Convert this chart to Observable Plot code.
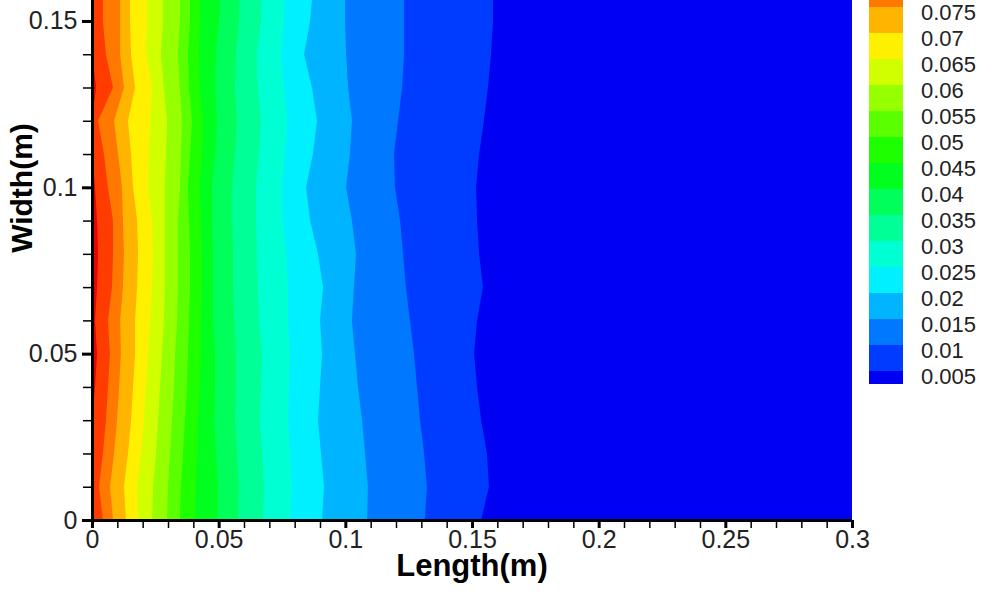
<!DOCTYPE html>
<html><head><meta charset="utf-8">
<script src="https://cdn.jsdelivr.net/npm/d3@7"></script>
<script src="https://cdn.jsdelivr.net/npm/@observablehq/plot@0.6"></script>
<style>body{margin:0;background:#fff}</style>
</head><body><div id="chart"></div>
<script>
// Rows across the width (m) at which contour positions were read
const widthY = [0, 0.01, 0.02, 0.03, 0.04, 0.05, 0.06, 0.07, 0.08, 0.09, 0.10, 0.11, 0.12, 0.13, 0.14, 0.15, 0.16];
// Contour levels
const levels = [0.005, 0.01, 0.015, 0.02, 0.025, 0.03, 0.035, 0.04, 0.045, 0.05, 0.055, 0.06, 0.065, 0.07, 0.075, 0.08, 0.085];
// Length (m) position of each contour line at each row of widthY
const x005 = [0.1536, 0.1567, 0.1559, 0.1536, 0.1520, 0.1508, 0.1520, 0.1543, 0.1528, 0.1520, 0.1516, 0.1528, 0.1547, 0.1563, 0.1575, 0.1583, 0.1583];
const x010 = [0.1314, 0.1322, 0.1311, 0.1295, 0.1283, 0.1271, 0.1255, 0.1239, 0.1228, 0.1216, 0.1196, 0.1192, 0.1208, 0.1224, 0.1232, 0.1232, 0.1232];
const x015 = [0.1086, 0.1089, 0.1078, 0.1066, 0.1050, 0.1038, 0.1026, 0.1034, 0.1042, 0.1026, 0.1003, 0.1018, 0.1026, 0.1011, 0.1003, 0.0999, 0.0999];
const x020 = [0.0908, 0.0916, 0.0904, 0.0892, 0.0900, 0.0908, 0.0900, 0.0912, 0.0892, 0.0861, 0.0845, 0.0872, 0.0888, 0.0868, 0.0837, 0.0861, 0.0872];
const x025 = [0.0782, 0.0789, 0.0782, 0.0774, 0.0778, 0.0782, 0.0774, 0.0774, 0.0766, 0.0754, 0.0750, 0.0762, 0.0770, 0.0758, 0.0746, 0.0758, 0.0762];
const x030 = [0.0675, 0.0679, 0.0671, 0.0663, 0.0667, 0.0671, 0.0659, 0.0655, 0.0651, 0.0647, 0.0647, 0.0659, 0.0667, 0.0655, 0.0651, 0.0667, 0.0671];
const x035 = [0.0576, 0.0580, 0.0572, 0.0564, 0.0568, 0.0568, 0.0561, 0.0557, 0.0557, 0.0553, 0.0553, 0.0564, 0.0572, 0.0564, 0.0568, 0.0580, 0.0584];
const x040 = [0.0497, 0.0497, 0.0489, 0.0482, 0.0486, 0.0486, 0.0478, 0.0478, 0.0478, 0.0474, 0.0474, 0.0486, 0.0493, 0.0486, 0.0489, 0.0501, 0.0505];
const x045 = [0.0407, 0.0411, 0.0414, 0.0418, 0.0426, 0.0430, 0.0430, 0.0434, 0.0434, 0.0430, 0.0426, 0.0434, 0.0438, 0.0426, 0.0422, 0.0426, 0.0426];
const x050 = [0.0347, 0.0351, 0.0359, 0.0367, 0.0375, 0.0379, 0.0383, 0.0387, 0.0387, 0.0383, 0.0379, 0.0387, 0.0395, 0.0383, 0.0379, 0.0387, 0.0387];
const x055 = [0.0296, 0.0300, 0.0308, 0.0316, 0.0324, 0.0328, 0.0336, 0.0339, 0.0339, 0.0339, 0.0347, 0.0351, 0.0355, 0.0347, 0.0339, 0.0347, 0.0347];
const x060 = [0.0237, 0.0241, 0.0253, 0.0261, 0.0268, 0.0276, 0.0284, 0.0288, 0.0288, 0.0288, 0.0288, 0.0292, 0.0296, 0.0284, 0.0272, 0.0280, 0.0280];
const x065 = [0.0182, 0.0178, 0.0193, 0.0205, 0.0213, 0.0221, 0.0229, 0.0237, 0.0241, 0.0237, 0.0221, 0.0225, 0.0229, 0.0237, 0.0213, 0.0217, 0.0217];
const x070 = [0.0134, 0.0126, 0.0142, 0.0154, 0.0162, 0.0170, 0.0170, 0.0178, 0.0182, 0.0178, 0.0162, 0.0154, 0.0142, 0.0170, 0.0154, 0.0150, 0.0150];
const x075 = [0.0083, 0.0071, 0.0087, 0.0099, 0.0107, 0.0114, 0.0111, 0.0122, 0.0126, 0.0122, 0.0118, 0.0103, 0.0087, 0.0126, 0.0111, 0.0111, 0.0111];
const x080 = [0.0043, 0.0028, 0.0043, 0.0055, 0.0063, 0.0071, 0.0063, 0.0079, 0.0083, 0.0083, 0.0063, 0.0047, 0.0024, 0.0083, 0.0055, 0.0043, 0.0043];
const x085 = [0, 0, 0, 0, 0.0012, 0.0020, 0.0012, 0.0020, 0.0024, 0.0020, 0.0012, 0, 0, 0.0016, 0, 0, 0];
const contourX = [x005, x010, x015, x020, x025, x030, x035, x040, x045, x050, x055, x060, x065, x070, x075, x080, x085];
// Axis ticks
const xMajor = [0, 0.05, 0.1, 0.15, 0.2, 0.25, 0.3];
const yMajor = [0, 0.05, 0.1, 0.15];

// Band colours (below lowest level ... above highest level)
const bandColors = [
  "rgb(0,0,242)", "rgb(0,60,255)", "rgb(0,120,255)", "rgb(0,180,255)", "rgb(0,240,255)",
  "rgb(0,255,210)", "rgb(0,255,150)", "rgb(0,255,90)", "rgb(0,255,30)", "rgb(30,255,0)",
  "rgb(90,255,0)", "rgb(150,255,0)", "rgb(210,255,0)", "rgb(255,240,0)", "rgb(255,180,0)",
  "rgb(255,120,0)", "rgb(255,60,0)", "rgb(235,0,0)"
];

const FONT = "'Liberation Sans', Arial, Helvetica, sans-serif";
const rows = widthY.map((y, r) => ({y, xs: contourX.map(a => a[r])}));

const marks = [Plot.areaX(rows, {y: "y", x1: 0, x2: 0.3, fill: bandColors[0], curve: "linear", clip: true})];
levels.forEach((L, i) => {
  marks.push(Plot.areaX(rows, {y: "y", x1: 0, x2: d => d.xs[i], fill: bandColors[i + 1], curve: "linear", clip: true}));
});
marks.push(
  Plot.axisX(d3.range(0, 0.3001, 0.01), {tickSize: 8, strokeWidth: 1.5, tickFormat: () => "", label: null}),
  Plot.axisX(xMajor, {tickSize: 8, strokeWidth: 3, tickPadding: 2, tickFormat: d => String(d), fontSize: 25, fill: "#222", label: null}),
  Plot.axisY(d3.range(0, 0.1551, 0.01), {tickSize: 9, strokeWidth: 1.5, tickFormat: () => "", label: null}),
  Plot.axisY(yMajor, {tickSize: 10, strokeWidth: 3, tickPadding: 5, tickFormat: d => String(d), fontSize: 25, fill: "#222", label: null}),
  Plot.ruleX([0], {strokeWidth: 3}),
  Plot.ruleY([0], {strokeWidth: 3})
);

const plot = Plot.plot({
  width: 997, height: 598,
  marginLeft: 92, marginRight: 145, marginTop: 0, marginBottom: 78,
  x: {domain: [0, 0.3], label: null},
  y: {domain: [0, 0.1563], label: null},
  style: {fontFamily: FONT, background: "white"},
  marks
});

const svg = d3.select(plot);
svg.append("text").attr("x", 472).attr("y", 576).attr("text-anchor", "middle")
  .attr("font-family", FONT).attr("font-weight", "bold").attr("font-size", 31).attr("fill", "#000").text("Length(m)");
svg.append("text").attr("transform", "translate(32,188) rotate(-90)").attr("text-anchor", "middle")
  .attr("font-family", FONT).attr("font-weight", "bold").attr("font-size", 30).attr("fill", "#000").text("Width(m)");

// Contour legend
const lg = svg.append("g");
const yOf = i => 7 + 26 * (14 - i);
for (let k = 0; k < bandColors.length; k++) {
  const top = k < levels.length ? yOf(k) : yOf(levels.length - 1) - 26;
  const bottom = k === 0 ? yOf(0) + 13 : yOf(k - 1);
  lg.append("rect").attr("x", 869).attr("y", top).attr("width", 34).attr("height", bottom - top)
    .attr("fill", bandColors[k]).attr("shape-rendering", "crispEdges");
}
levels.forEach((L, i) => {
  if (yOf(i) < 0) return;
  lg.append("text").attr("x", 921).attr("y", yOf(i) + 5).attr("dy", "0.35em").attr("text-anchor", "start")
    .attr("font-family", FONT).attr("font-size", 22).attr("fill", "#222").text(String(L));
});

document.getElementById("chart").appendChild(plot);
</script>
</body></html>
